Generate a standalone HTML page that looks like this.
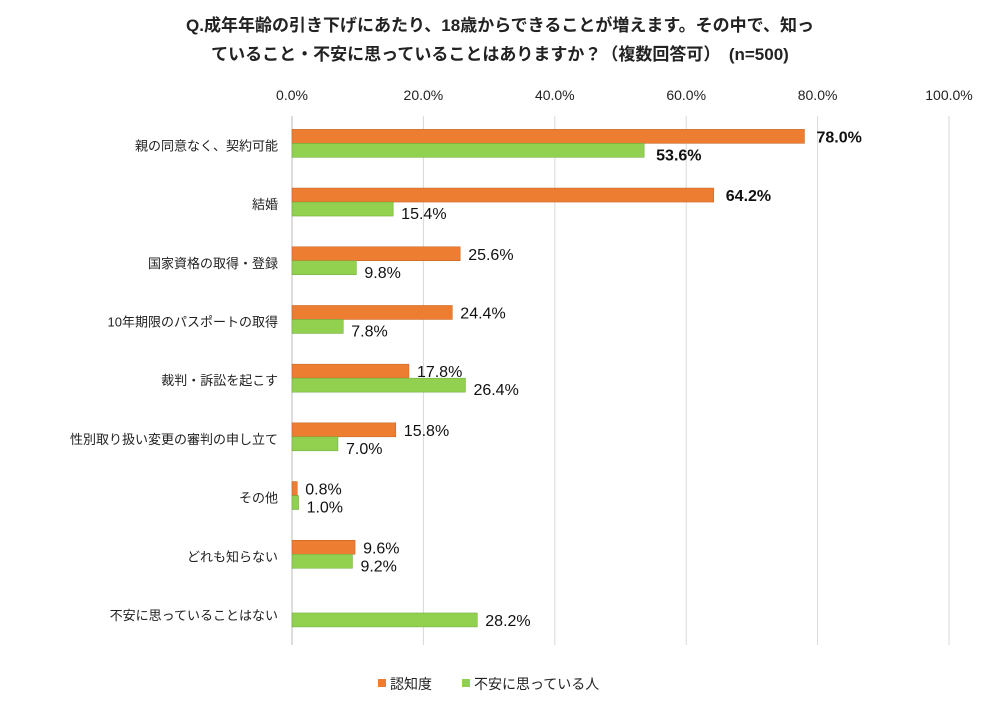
<!DOCTYPE html>
<html><head><meta charset="utf-8">
<style>
body{margin:0;background:#fff;font-family:"Liberation Sans","Noto Sans CJK JP",sans-serif;}
svg text{font-family:"Liberation Sans","Noto Sans CJK JP",sans-serif;}
</style></head>
<body>
<svg id="chart" width="1000" height="709">
<text x="500" y="31" text-anchor="middle" font-size="17" font-weight="bold" fill="#222">Q.成年年齢の引き下げにあたり、18歳からできることが増えます。その中で、知っ</text>
<text x="500" y="60" text-anchor="middle" font-size="17" font-weight="bold" fill="#222">ていること・不安に思っていることはありますか？（複数回答可）　(n=500)</text>
<g id="grid"></g><g id="bars"></g><g id="labels"></g>
<g>
<rect x="378" y="679" width="8" height="8" fill="#ED7D31"/>
<text x="390" y="689" font-size="14" fill="#222">認知度</text>
<rect x="462" y="679" width="8" height="8" fill="#92D050"/>
<text x="474" y="689" font-size="14" fill="#222">不安に思っている人</text>
</g>
</svg>
<script>
const categories=["親の同意なく、契約可能","結婚","国家資格の取得・登録","10年期限のパスポートの取得","裁判・訴訟を起こす","性別取り扱い変更の審判の申し立て","その他","どれも知らない","不安に思っていることはない"];
const awareness=[78.0,64.2,25.6,24.4,17.8,15.8,0.8,9.6,null];
const anxious=[53.6,15.4,9.8,7.8,26.4,7.0,1.0,9.2,28.2];
const ticks=[0,20,40,60,80,100];
const NS="http://www.w3.org/2000/svg";
const x0=292,x1=949,yTop=116,rowH=58.7,yBottom=645;
const xs=v=>x0+(x1-x0)*v/100;
const rowC=i=>yTop+rowH*(i+0.5);
function mk(t,a,p){const e=document.createElementNS(NS,t);for(const k in a)e.setAttribute(k,a[k]);p.appendChild(e);return e;}
const grid=document.getElementById('grid'),bars=document.getElementById('bars'),labels=document.getElementById('labels');
ticks.forEach(t=>{
 const l=mk('line',{x1:xs(t),x2:xs(t),y1:yTop,y2:yBottom,stroke:t===0?'#bbb':'#d9d9d9','stroke-width':1},grid);
 
 
 const tx=mk('text',{x:xs(t),y:100,'text-anchor':'middle','font-size':14,fill:'#222'},grid);
 tx.textContent=t.toFixed(1)+'%';
 
 
});
categories.forEach((c,i)=>{
 const cy=rowC(i);
 const cl=mk('text',{x:278,y:cy+5,'text-anchor':'end','font-size':13,fill:'#222'},labels);
 cl.textContent=c;
 
 
 const bold=i<2;
 if(awareness[i]!=null){
  const r=mk('rect',{x:x0,y:cy-16,width:xs(awareness[i])-x0,height:14,fill:'#ED7D31',stroke:'#c0601f','stroke-width':0.5},bars);
  
  
  const t=mk('text',{x:xs(awareness[i])+(bold?12:8),y:cy-3,'font-size':16,fill:'#111','font-weight':bold?'bold':'normal'},labels);
  t.textContent=awareness[i].toFixed(1)+'%';
  
  
 }
 const g=mk('rect',{x:x0,y:cy-2,width:xs(anxious[i])-x0,height:14,fill:'#92D050',stroke:'#6aa83a','stroke-width':0.5},bars);
 
 
 const t2=mk('text',{x:xs(anxious[i])+(i===0?12:8),y:(awareness[i]==null?cy+11:cy+15),'font-size':16,fill:'#111','font-weight':i===0?'bold':'normal'},labels);
 t2.textContent=anxious[i].toFixed(1)+'%';
 
 
});
</script>
</body></html>
